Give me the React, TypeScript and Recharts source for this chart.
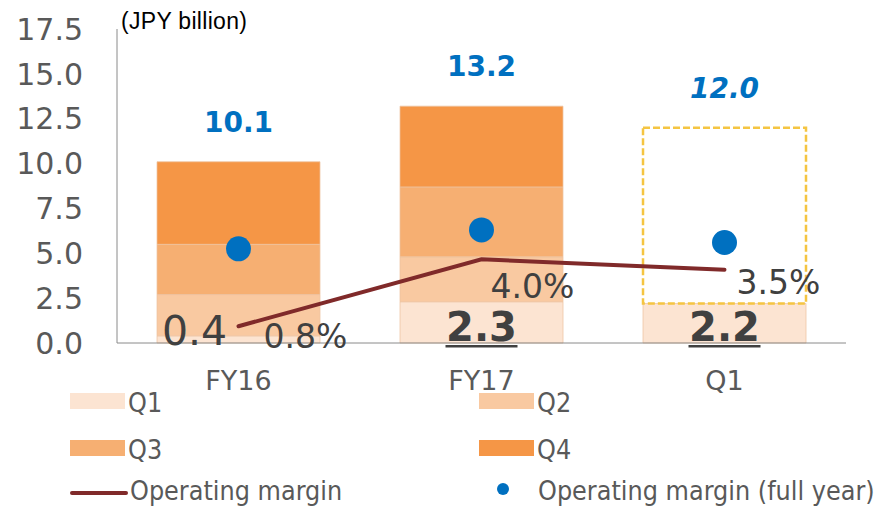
import React from 'react';
import {
  ComposedChart,
  Bar,
  Line,
  Scatter,
  XAxis,
  YAxis,
  LabelList,
} from 'recharts';

// values (JPY billion, margins in %)
const categories = ['FY16', 'FY17', 'Q1'];
const q1Values = [0.4, 2.3, 2.2];
const q2Values = [2.3, 2.5, null];
const q3Values = [2.8, 3.9, null];
const q4Values = [4.6, 4.5, null];
const totals = [10.1, 13.2, 12.0];
const isForecast = [false, false, true];
const marginPct = [0.8, 4.0, 3.5];
const fullYearMarginPct = [4.5, 5.4, 4.8];
const leftTicks = [0, 2.5, 5, 7.5, 10, 12.5, 15, 17.5];

const rows = categories.map((name, i) => ({
  name,
  q1: q1Values[i],
  q2: q2Values[i],
  q3: q3Values[i],
  q4: q4Values[i],
  forecast: isForecast[i] ? +(totals[i] - (q1Values[i] ?? 0)).toFixed(1) : null,
  total: totals[i],
  margin: marginPct[i],
  fullYear: fullYearMarginPct[i],
}));

const FONT = '"DejaVu Sans", Verdana, sans-serif';
const COLORS = {
  q1: '#FCE4D2',
  q2: '#F9C9A1',
  q3: '#F6AF72',
  q4: '#F59646',
  edge: '#EDC3A2',
  margin: '#802A2A',
  dot: '#0070C0',
  forecast: '#F5C542',
  axis: '#8A8A8A',
  text: '#595959',
  dark: '#404040',
};

// nudges for the margin % labels (relative to each point)
const marginLabelOffsets = [
  [25, 22],
  [9, 39],
  [12, 24],
];

const TotalLabel = (props: any) => {
  const { x, y, value, index } = props;
  return (
    <text
      x={x}
      y={y - 30}
      textAnchor="middle"
      fontFamily={FONT}
      fontSize={28}
      fontWeight="bold"
      fontStyle={isForecast[index] ? 'italic' : 'normal'}
      fill={COLORS.dot}
    >
      {Number(value).toFixed(1)}
    </text>
  );
};

const Q1Label = (props: any) => {
  const { x, y, width, height, value, index } = props;
  const bottom = y + height;
  if (index === 0) {
    return (
      <text x={x + 5} y={bottom + 2} fontFamily={FONT} fontSize={41} fill={COLORS.dark}>
        {Number(value).toFixed(1)}
      </text>
    );
  }
  const cx = x + width / 2;
  return (
    <g>
      <text
        x={cx}
        y={bottom - 2}
        textAnchor="middle"
        fontFamily={FONT}
        fontSize={40}
        fontWeight="bold"
        fill={COLORS.dark}
      >
        {Number(value).toFixed(1)}
      </text>
      <rect x={cx - 36} y={bottom + 2} width={72} height={2.5} fill={COLORS.dark} />
    </g>
  );
};

const MarginLabel = (props: any) => {
  const { x, y, value, index } = props;
  const [dx, dy] = marginLabelOffsets[index] ?? [12, 24];
  return (
    <text x={x + dx} y={y + dy} fontFamily={FONT} fontSize={33} fill={COLORS.dark}>
      {Number(value).toFixed(1)}%
    </text>
  );
};

const Dot = (props: any) => (
  <circle cx={props.cx} cy={props.cy} r={12.5} fill={COLORS.dot} />
);

const legendCols = [70, 479];
const legendRows = [401, 448, 493];

const LegendText = ({ x, y, children }: { x: number; y: number; children: React.ReactNode }) => (
  <text
    transform={`translate(${x},${y}) scale(1,1.1)`}
    fontFamily={FONT}
    fontSize={24}
    fill={COLORS.text}
  >
    {children}
  </text>
);

const Legend = () => (
  <svg
    width={879}
    height={506}
    style={{ position: 'absolute', left: 0, top: 0, pointerEvents: 'none' }}
  >
    {[
      ['Q1', COLORS.q1, 0, 0],
      ['Q2', COLORS.q2, 1, 0],
      ['Q3', COLORS.q3, 0, 1],
      ['Q4', COLORS.q4, 1, 1],
    ].map(([label, color, c, r]) => (
      <g key={label as string}>
        <rect
          x={legendCols[c as number]}
          y={legendRows[r as number] - 8}
          width={55}
          height={16}
          fill={color as string}
        />
        <LegendText x={legendCols[c as number] + 58} y={legendRows[r as number] + 11}>
          {label}
        </LegendText>
      </g>
    ))}
    <line
      x1={legendCols[0] + 2}
      x2={legendCols[0] + 56}
      y1={legendRows[2]}
      y2={legendRows[2]}
      stroke={COLORS.margin}
      strokeWidth={4}
      strokeLinecap="round"
    />
    <LegendText x={legendCols[0] + 60} y={legendRows[2] + 7}>
      Operating margin
    </LegendText>
    <circle cx={legendCols[1] + 24} cy={legendRows[2] - 4} r={6} fill={COLORS.dot} />
    <LegendText x={legendCols[1] + 59} y={legendRows[2] + 7}>
      Operating margin (full year)
    </LegendText>
  </svg>
);

export default function App() {
  return (
    <div
      style={{
        position: 'absolute',
        left: 0,
        top: 0,
        width: 879,
        height: 506,
        background: '#fff',
        overflow: 'hidden',
      }}
    >
      <ComposedChart
        width={879}
        height={506}
        data={rows}
        margin={{ top: 29, right: 33, bottom: 133, left: 0 }}
      >
        <XAxis
          dataKey="name"
          axisLine={{ stroke: COLORS.axis }}
          tickLine={false}
          tickMargin={22}
          height={30}
          tick={{ fontSize: 27, fill: COLORS.text, fontFamily: FONT }}
        />
        <YAxis
          yAxisId="left"
          domain={[0, 17.5]}
          ticks={leftTicks}
          tickFormatter={(v: number) => v.toFixed(1)}
          axisLine={{ stroke: COLORS.axis }}
          tickLine={false}
          tickMargin={28}
          width={117}
          tick={{ fontSize: 30, fill: COLORS.text, fontFamily: FONT }}
        />
        <YAxis yAxisId="right" orientation="right" domain={[0, 15]} hide />
        <Bar yAxisId="left" dataKey="q1" stackId="s" fill={COLORS.q1} stroke={COLORS.edge} strokeWidth={0.75} barSize={163} isAnimationActive={false}>
          <LabelList dataKey="q1" content={Q1Label} />
        </Bar>
        <Bar yAxisId="left" dataKey="q2" stackId="s" fill={COLORS.q2} stroke={COLORS.edge} strokeWidth={0.75} barSize={163} isAnimationActive={false} />
        <Bar yAxisId="left" dataKey="q3" stackId="s" fill={COLORS.q3} stroke={COLORS.edge} strokeWidth={0.75} barSize={163} isAnimationActive={false} />
        <Bar yAxisId="left" dataKey="q4" stackId="s" fill={COLORS.q4} stroke={COLORS.edge} strokeWidth={0.75} barSize={163} isAnimationActive={false} />
        <Bar
          yAxisId="left"
          dataKey="forecast"
          stackId="s"
          fill="none"
          stroke={COLORS.forecast}
          strokeWidth={2.5}
          strokeDasharray="7 3"
          barSize={163}
          isAnimationActive={false}
        />
        <Line
          yAxisId="left"
          dataKey="total"
          stroke="none"
          dot={false}
          activeDot={false}
          isAnimationActive={false}
        >
          <LabelList dataKey="total" content={TotalLabel} />
        </Line>
        <Line
          yAxisId="right"
          dataKey="margin"
          stroke={COLORS.margin}
          strokeWidth={4}
          strokeLinecap="round"
          dot={false}
          activeDot={false}
          isAnimationActive={false}
        >
          <LabelList dataKey="margin" content={MarginLabel} />
        </Line>
        <Scatter yAxisId="right" dataKey="fullYear" shape={Dot} isAnimationActive={false} />
      </ComposedChart>
      <div
        style={{
          position: 'absolute',
          left: 121,
          top: 8,
          fontFamily: '"Liberation Sans", Arial, sans-serif',
          fontSize: 23,
          letterSpacing: 0.3,
          color: '#000',
          lineHeight: '26px',
        }}
      >
        (JPY billion)
      </div>
      <Legend />
    </div>
  );
}
